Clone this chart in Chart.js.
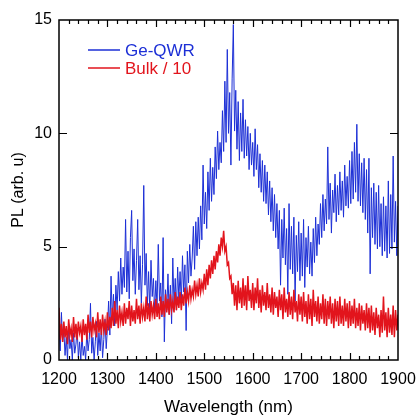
<!DOCTYPE html>
<html>
<head>
<meta charset="utf-8">
<script src="https://cdn.jsdelivr.net/npm/chart.js@4/dist/chart.umd.min.js"></script>
<style>
  html, body { margin: 0; padding: 0; background: #fff; }
  #wrap { width: 417px; height: 418px; }
</style>
</head>
<body>
<div id="wrap"><canvas id="pl-chart" width="417" height="418"></canvas></div>
<script>
// sampling grid of the spectra (nm)
var wlStart = 1200;
var wlStep = 2.5;

// Ge quantum wires, every 2.5 nm (1200 ... 1900), one row per 100 nm
var geQwr = [
  1.5,0.4,2.1,0.8,1.3,0.2,1.0,0.0,1.6,0.5,0.9,0.0,1.2,0.3,0.7,1.4,0.1,0.8,0.0,1.1,
  0.2,0.6,0.0,1.3,0.4,0.9,2.5,0.3,1.0,0.0,0.8,1.7,0.2,1.2,0.4,1.5,0.1,0.9,1.8,0.5,

  1.4,2.6,1.1,3.7,1.8,2.9,1.5,3.3,2.2,3.9,2.6,4.5,2.9,4.1,3.2,6.2,3.0,4.8,2.7,5.4,
  6.6,3.5,4.9,2.9,4.4,6.2,3.1,4.6,2.5,4.2,7.7,3.3,4.7,2.4,3.9,2.2,4.4,2.8,3.6,2.1,

  3.5,2.3,5.1,2.6,3.4,1.9,5.4,0.8,3.1,2.2,3.8,2.0,3.3,1.6,4.5,2.4,3.6,2.2,4.1,2.7,
  3.9,2.5,4.6,3.0,4.2,1.3,4.8,3.4,5.1,3.7,4.5,5.9,4.0,6.1,4.6,6.3,4.9,6.8,5.3,8.6,

  6.0,7.4,5.8,8.3,6.6,8.9,7.0,8.5,7.3,9.4,8.0,10.1,8.4,9.6,8.7,11.0,9.2,12.3,9.6,13.7,
  10.0,11.8,8.6,12.4,14.8,10.1,11.9,9.3,11.4,8.8,10.9,9.2,11.5,8.9,10.6,9.0,10.3,8.4,10.0,8.6,

  9.6,8.1,10.2,8.4,9.5,7.6,9.1,7.4,8.8,7.0,8.6,6.9,8.3,6.4,7.9,6.1,7.6,5.7,7.3,5.4,
  6.9,4.9,6.6,3.3,6.2,4.5,6.7,4.2,5.8,2.9,6.9,4.0,5.9,3.8,6.3,2.6,5.5,3.9,6.1,3.5,

  5.6,3.7,6.2,3.2,5.4,4.1,5.9,3.8,5.2,3.7,5.8,4.3,6.3,4.6,6.0,5.1,6.9,5.4,7.3,5.7,
  7.1,6.0,9.4,6.2,7.8,5.6,7.5,6.5,8.2,6.1,7.7,6.4,8.3,6.6,7.9,6.3,8.6,6.8,8.1,6.7,

  8.8,6.9,9.2,7.1,9.6,7.4,10.4,7.0,9.1,6.8,8.7,6.5,8.9,6.2,8.4,5.6,8.9,3.8,7.6,5.4,
  7.8,5.1,7.4,4.9,7.7,5.0,6.9,4.6,7.2,4.8,6.8,4.5,7.9,4.7,7.3,4.9,9.0,5.2,7.0,4.6,
  6.8
];

// bulk Ge divided by 10, same grid
var bulk = [
  2.3,0.9,1.6,0.8,1.7,1.0,1.5,0.7,1.8,1.1,1.4,0.8,1.9,1.0,1.6,0.9,1.7,1.2,1.5,0.8,
  1.8,1.1,1.6,0.9,2.0,1.2,1.7,1.0,1.9,1.3,1.6,1.0,2.1,1.2,1.8,1.1,2.0,1.3,1.7,1.1,

  2.1,1.3,1.9,1.4,2.3,1.5,2.6,1.6,2.2,1.4,2.4,1.7,2.1,1.5,2.5,1.6,2.3,1.8,2.6,1.5,
  2.4,1.7,2.2,1.6,2.7,1.8,2.4,1.6,2.5,1.9,2.3,1.7,2.8,1.8,2.5,1.7,2.6,2.0,2.4,1.8,

  2.7,1.9,2.5,1.8,2.8,2.0,2.6,1.9,2.9,2.1,2.7,2.0,2.9,2.2,2.6,2.1,3.0,2.2,2.8,2.3,
  3.0,2.2,2.9,2.4,3.2,2.5,3.0,2.6,3.3,2.7,3.1,2.8,3.5,2.9,3.3,2.8,3.6,3.0,3.4,3.1,

  3.8,3.1,4.0,3.3,4.2,3.6,4.4,3.8,4.6,4.0,4.8,4.3,5.1,4.6,5.4,5.0,5.7,4.8,5.0,4.2,
  4.3,3.6,3.7,2.9,3.4,2.4,3.3,2.2,3.5,2.5,3.2,2.3,3.6,2.4,3.3,2.2,3.7,2.6,3.1,2.3,

  3.4,2.2,3.2,2.5,3.6,2.3,3.1,2.1,3.3,2.4,3.0,2.2,3.4,2.3,2.9,2.1,3.2,2.0,3.0,2.3,
  2.8,1.9,3.1,2.2,2.9,1.8,3.2,2.1,2.7,1.9,3.0,2.0,2.8,1.8,3.1,2.1,2.6,1.7,2.9,2.0,

  2.8,1.7,3.0,1.9,2.6,1.6,2.9,1.8,2.7,1.5,3.1,1.9,2.6,1.7,2.8,1.6,2.5,1.8,2.9,1.6,
  2.7,1.5,2.6,1.8,2.8,1.6,2.5,1.4,2.7,1.7,2.6,1.5,2.8,1.6,2.4,1.5,2.7,1.7,2.5,1.4,

  2.6,1.5,2.4,1.6,2.7,1.4,2.3,1.5,2.5,1.3,2.4,1.6,2.2,1.3,2.5,1.4,2.3,1.2,2.4,1.3,
  2.1,1.1,2.3,1.4,2.0,1.0,2.2,1.2,2.8,1.3,2.1,1.0,2.3,1.2,2.0,1.1,2.4,1.0,2.2,1.3,
  2.0
];

var seriesNames = ['Ge-QWR', 'Bulk / 10'];
var seriesColors = ['#1c2fd6', '#e2141c'];
var xTicks = { min: 1200, max: 1900, major: 100, minor: 20 };
var yTicks = { min: 0, max: 15, major: 5 };

function toPoints(values) {
  return values.map(function(v, i) { return { x: wlStart + i * wlStep, y: v }; });
}

var font = "'Liberation Sans', Arial, Helvetica, sans-serif";

// box frame with inward ticks on all four sides
var frameTicks = {
  id: 'frameTicks',
  afterDatasetsDraw: function(chart) {
    var ctx = chart.ctx, a = chart.chartArea;
    var xs = chart.scales.x, ys = chart.scales.y;
    ctx.save();
    ctx.strokeStyle = '#000';
    ctx.lineWidth = 1.5;
    ctx.strokeRect(a.left, a.top, a.right - a.left, a.bottom - a.top);
    ctx.beginPath();
    for (var v = xTicks.min + xTicks.minor; v < xTicks.max; v += xTicks.minor) {
      var px = Math.round(xs.getPixelForValue(v)) + 0.5;
      var len = (v % xTicks.major === 0) ? 7 : 4;
      ctx.moveTo(px, a.bottom); ctx.lineTo(px, a.bottom - len);
      ctx.moveTo(px, a.top); ctx.lineTo(px, a.top + len);
    }
    for (var w = yTicks.min + yTicks.major; w < yTicks.max; w += yTicks.major) {
      var py = Math.round(ys.getPixelForValue(w)) + 0.5;
      ctx.moveTo(a.left, py); ctx.lineTo(a.left + 8, py);
      ctx.moveTo(a.right, py); ctx.lineTo(a.right - 8, py);
    }
    ctx.lineWidth = 1.2;
    ctx.stroke();
    ctx.restore();
  }
};

// legend drawn inside the plot, top left
var insideLegend = {
  id: 'insideLegend',
  afterDatasetsDraw: function(chart) {
    var ctx = chart.ctx, a = chart.chartArea;
    ctx.save();
    ctx.font = '17px ' + font;
    ctx.textBaseline = 'middle';
    seriesNames.forEach(function(name, i) {
      var y = a.top + 30 + i * 18;
      ctx.strokeStyle = seriesColors[i];
      ctx.lineWidth = 1.5;
      ctx.beginPath();
      ctx.moveTo(a.left + 29, y); ctx.lineTo(a.left + 61, y);
      ctx.stroke();
      ctx.fillStyle = seriesColors[i];
      ctx.fillText(name, a.left + 66, y + 1);
    });
    ctx.restore();
  }
};

var chart = new Chart('pl-chart', {
  type: 'line',
  data: {
    datasets: [
      {
        label: seriesNames[0],
        data: toPoints(geQwr),
        borderColor: seriesColors[0],
        borderWidth: 1,
        pointRadius: 0,
        tension: 0,
        fill: false,
        order: 1
      },
      {
        label: seriesNames[1],
        data: toPoints(bulk),
        borderColor: seriesColors[1],
        borderWidth: 1.5,
        pointRadius: 0,
        tension: 0,
        fill: false,
        order: 0   // bulk is drawn over the QWR trace
      }
    ]
  },
  options: {
    responsive: false,
    animation: false,
    layout: { padding: { top: 20, right: 19, left: 0, bottom: 0 } },
    plugins: {
      legend: { display: false },
      tooltip: { enabled: false }
    },
    scales: {
      x: {
        type: 'linear',
        min: xTicks.min,
        max: xTicks.max,
        grid: { display: false, drawTicks: false },
        border: { display: false },
        ticks: {
          stepSize: xTicks.major,
          color: '#000',
          padding: 10,
          maxRotation: 0,
          font: { family: font, size: 16 },
          callback: function(v) { return v; }
        },
        title: {
          display: true,
          text: 'Wavelength (nm)',
          color: '#000',
          padding: { top: 0, bottom: 0 },
          font: { family: font, size: 17 }
        },
        afterFit: function(scale) {
          scale.height = 58;
          scale.paddingLeft = 0;
          scale.paddingRight = 0;
        }
      },
      y: {
        min: yTicks.min,
        max: yTicks.max,
        grid: { display: false, drawTicks: false },
        border: { display: false },
        ticks: {
          stepSize: yTicks.major,
          color: '#000',
          padding: 7,
          font: { family: font, size: 16 }
        },
        title: {
          display: true,
          text: 'PL (arb. u)',
          color: '#000',
          padding: { top: 9, bottom: 0 },
          font: { family: font, size: 16 }
        },
        afterFit: function(scale) {
          scale.width = 59;
          scale.paddingTop = 0;
          scale.paddingBottom = 0;
        }
      }
    }
  },
  plugins: [frameTicks, insideLegend]
});
</script>
</body>
</html>
